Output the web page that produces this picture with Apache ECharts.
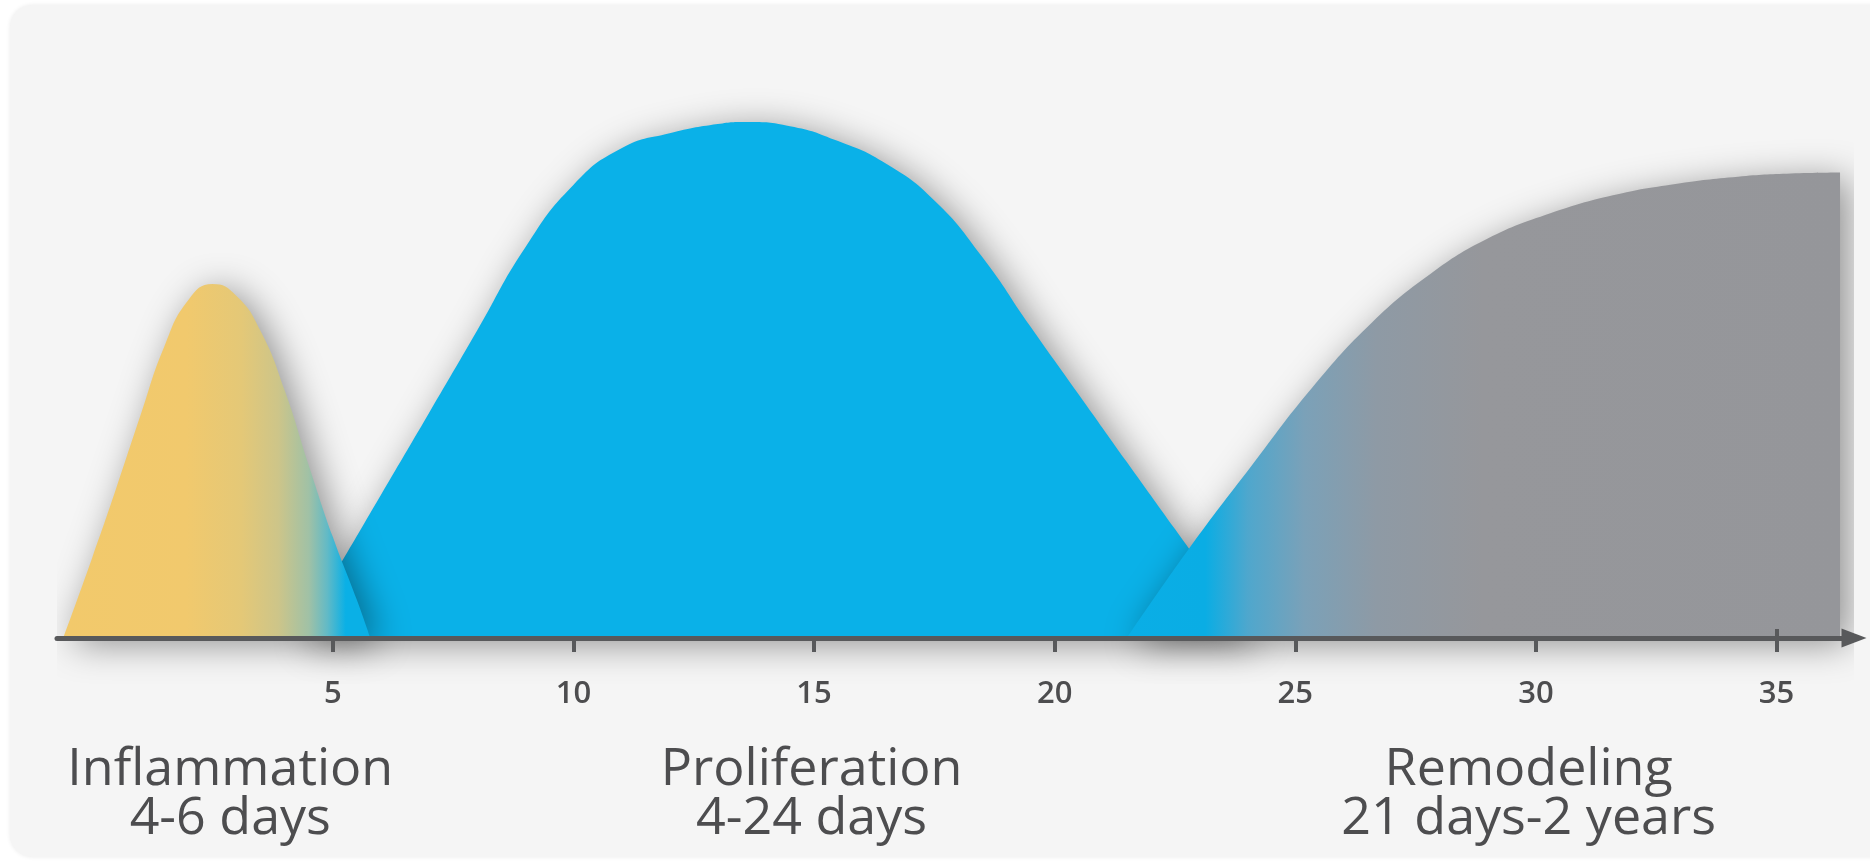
<!DOCTYPE html>
<html><head><meta charset="utf-8">
<script src="https://cdn.jsdelivr.net/npm/echarts@6/dist/echarts.min.js"></script>
<style>html,body{margin:0;padding:0;background:#ffffff;}#c{width:1870px;height:862px;}</style>
</head><body><div id="c"></div>
<script>
// ---- data ----
const tickValues = [5, 10, 15, 20, 25, 30, 35];
const crossTickValues = [35];
const phaseNames = ['Inflammation', 'Proliferation', 'Remodeling'];
const phaseDurations = ['4-6 days', '4-24 days', '21 days-2 years'];
const phaseCenters = [2.87, 14.95, 29.85];

const inflammationX = [-0.6, 0, 0.5, 1.0, 1.5, 2.0, 2.5, 3.0, 3.5, 4.0, 4.5, 5.0, 5.5, 5.78];
const inflammationY = [0, 15.5, 29, 43, 56.5, 65.5, 68.6, 66.3, 59.5, 48.0, 33.5, 19.6, 7.4, 0];

const proliferationX = [4.25, 5, 6, 7, 8, 9, 10, 11, 12, 13, 13.6, 14.5, 15.5, 16.5, 17.5, 18.5, 19.5, 20.5, 21.5, 22.5, 23.5, 24.1];
const proliferationY = [0, 11.8, 27.7, 43.6, 59.6, 75.7, 87.8, 94.9, 97.8, 99.6, 100, 99.2, 96.3, 91.9, 84.8, 73.8, 60.3, 47.2, 34.1, 21.1, 8.0, 0];

const remodelingX = [21.5, 22.79, 24.1, 25.35, 26.6, 27.8, 29.0, 30.3, 31.6, 32.9, 34.2, 35.3, 36.32];
const remodelingY = [0, 17.3, 33.5, 48.5, 61.2, 70.5, 77.4, 82.3, 85.8, 88.0, 89.4, 90.0, 90.2];

// ---- build ----
function pairs(xs, ys) { return xs.map((x, i) => [x, ys[i]]); }
function grad(stops) {
  return new echarts.graphic.LinearGradient(0, 0, 1, 0, stops.map(s => ({ offset: s[0], color: s[1] })));
}
const textColor = '#4d4d4f';
const axisColor = '#58595b';
const xMin = -0.73, xMax = 36.61;
const shadow = { shadowBlur: 36, shadowColor: 'rgba(0,0,0,0.42)', shadowOffsetX: 8, shadowOffsetY: 6 };
const labelFont = { fontFamily: 'Open Sans', fontSize: 52, fontWeight: 400, lineHeight: 49, color: textColor, align: 'center' };

const chart = echarts.init(document.getElementById('c'));
chart.setOption({
  animation: false,
  backgroundColor: '#ffffff',
  graphic: [{
    type: 'rect', left: 10, top: 5, z: -10,
    shape: { width: 1900, height: 852, r: 22 },
    style: { fill: '#f5f5f5', shadowBlur: 4, shadowColor: 'rgba(0,0,0,0.08)' }
  }],
  grid: { left: 57, right: 16, top: 122, bottom: 224 },
  xAxis: [{
    type: 'value', min: xMin, max: xMax, z: 10,
    splitLine: { show: false },
    axisLine: { show: true, onZero: false, symbol: ['none', 'triangle'], symbolSize: [19, 25],
      lineStyle: { color: axisColor, width: 5 } },
    axisTick: { show: true, customValues: tickValues, length: 14, lineStyle: { color: axisColor, width: 4 } },
    axisLabel: { customValues: tickValues, margin: 40, fontFamily: 'Open Sans', fontSize: 31,
      fontWeight: 600, color: textColor, lineHeight: 32 }
  }, {
    type: 'value', min: xMin, max: xMax, position: 'bottom', gridIndex: 0, z: 10,
    axisLine: { show: false }, splitLine: { show: false },
    axisTick: { show: true, inside: true, customValues: crossTickValues, length: 9,
      lineStyle: { color: axisColor, width: 4 } },
    axisLabel: {
      customValues: phaseCenters, margin: 108, align: 'center',
      formatter: function (v) {
        let best = 0;
        phaseCenters.forEach((c, i) => { if (Math.abs(c - v) < Math.abs(phaseCenters[best] - v)) best = i; });
        return '{n|' + phaseNames[best] + '}\n{d|' + phaseDurations[best] + '}';
      },
      rich: { n: labelFont, d: labelFont }
    }
  }],
  yAxis: { type: 'value', min: 0, max: 100, show: false },
  series: [{
    name: 'Proliferation', type: 'line', z: 2, smooth: 0.5, clip: false,
    symbol: 'none', lineStyle: { width: 0 },
    data: pairs(proliferationX, proliferationY),
    areaStyle: Object.assign({ color: '#0ab1e8', opacity: 1 }, shadow)
  }, {
    name: 'Remodeling', type: 'line', z: 3, smooth: 0.45, clip: false,
    symbol: 'none', lineStyle: { width: 0 },
    data: pairs(remodelingX, remodelingY),
    areaStyle: Object.assign({ opacity: 1, color: grad([
      [0, '#0aaee6'], [0.11, '#0aade4'], [0.17, '#4fa7cd'], [0.25, '#7ba1b8'],
      [0.35, '#8e9aa5'], [0.5, '#96979b'], [1, '#95969a']]) }, shadow)
  }, {
    name: 'Inflammation', type: 'line', z: 4, smooth: 0.5, clip: false,
    symbol: 'none', lineStyle: { width: 0 },
    data: pairs(inflammationX, inflammationY),
    areaStyle: Object.assign({ opacity: 1, color: grad([
      [0, '#f2c96b'], [0.4, '#f1c96d'], [0.58, '#e4c877'], [0.7, '#cdc589'],
      [0.8, '#a0c1a6'], [0.86, '#62bac6'], [0.92, '#0ab0e6'], [1, '#0ab0e6']]) }, shadow)
  }]
});
</script></body></html>
